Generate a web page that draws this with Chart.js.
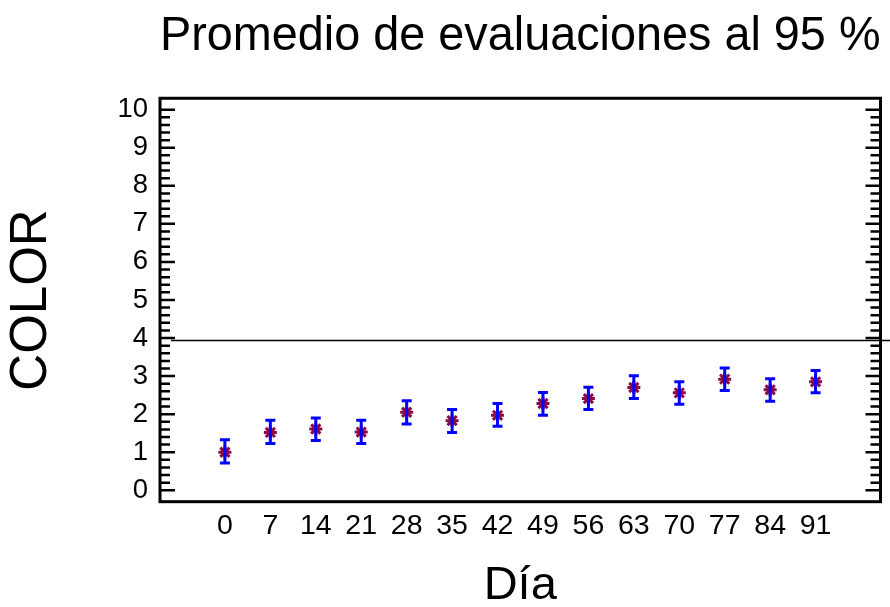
<!DOCTYPE html>
<html>
<head>
<meta charset="utf-8">
<title>Promedio de evaluaciones al 95 %</title>
<script src="https://cdn.jsdelivr.net/npm/chart.js@4/dist/chart.umd.min.js"></script>
<style>
  html, body { margin: 0; padding: 0; background: #ffffff; }
  #wrap { width: 890px; height: 607px; }
  canvas { display: block; }
</style>
</head>
<body>
<div id="wrap"><canvas id="chart" width="890" height="607"></canvas></div>
<script>
// Evaluation day (x) and COLOR score: mean with 95 % interval limits
const days  = [0, 7, 14, 21, 28, 35, 42, 49, 56, 63, 70, 77, 84, 91];
const means = [1.00, 1.52, 1.61, 1.53, 2.05, 1.83, 1.97, 2.28, 2.41, 2.70, 2.56, 2.92, 2.64, 2.85];
const lower = [0.72, 1.23, 1.31, 1.23, 1.74, 1.52, 1.68, 1.97, 2.12, 2.41, 2.26, 2.62, 2.34, 2.56];
const upper = [1.33, 1.84, 1.90, 1.84, 2.35, 2.12, 2.28, 2.57, 2.71, 3.01, 2.85, 3.21, 2.93, 3.15];
const yTickValues = [0, 1, 2, 3, 4, 5, 6, 7, 8, 9, 10];
const referenceLevel = 3.95;

const FONT = '"Liberation Sans", Arial, Helvetica, sans-serif';

// Frame, inward ticks on both vertical sides, reference line and interval bars
const decorations = {
  id: 'decorations',
  afterDatasetsDraw(chart) {
    const { ctx, chartArea: a, scales: { x, y } } = chart;
    ctx.save();

    // 95 % interval bars
    ctx.strokeStyle = '#0000ff';
    ctx.lineWidth = 3;
    ctx.lineCap = 'butt';
    days.forEach((d, i) => {
      const px = x.getPixelForValue(d);
      const lo = y.getPixelForValue(lower[i]);
      const hi = y.getPixelForValue(upper[i]);
      ctx.beginPath();
      ctx.moveTo(px, lo); ctx.lineTo(px, hi);
      ctx.moveTo(px - 5, lo); ctx.lineTo(px + 5, lo);
      ctx.moveTo(px - 5, hi); ctx.lineTo(px + 5, hi);
      ctx.stroke();
    });

    // horizontal reference line
    const ry = Math.round(y.getPixelForValue(referenceLevel)) + 0.5;
    ctx.strokeStyle = '#000000';
    ctx.lineWidth = 1.5;
    ctx.beginPath();
    ctx.moveTo(x.getPixelForValue(-8.3), ry);
    ctx.lineTo(chart.width, ry);
    ctx.stroke();

    // inward major / minor ticks on left and right sides
    ctx.lineWidth = 2.5;
    for (let k = 0; k <= 50; k++) {
      const v = k * 0.2;
      const len = (k % 5 === 0) ? 15 : 10;
      const py = y.getPixelForValue(v);
      ctx.beginPath();
      ctx.moveTo(a.left, py); ctx.lineTo(a.left + len, py);
      ctx.moveTo(a.right, py); ctx.lineTo(a.right - len, py);
      ctx.stroke();
    }

    // plot frame
    ctx.lineWidth = 3;
    ctx.strokeRect(a.left, a.top, a.right - a.left, a.bottom - a.top);
    ctx.restore();
  }
};

new Chart(document.getElementById('chart'), {
  type: 'scatter',
  data: {
    datasets: [{
      label: 'COLOR',
      data: days.map((d, i) => ({ x: d, y: means[i] })),
      showLine: false,
      pointStyle: 'star',
      pointRadius: 6.5,
      pointHoverRadius: 6.5,
      pointBorderWidth: 3,
      pointBorderColor: '#8b0a45',
      pointBackgroundColor: '#8b0a45'
    }]
  },
  options: {
    responsive: false,
    animation: false,
    devicePixelRatio: 1,
    layout: { padding: { left: 0, right: 3.5, top: 0, bottom: 0 } },
    plugins: {
      legend: { display: false },
      tooltip: { enabled: false },
      title: {
        display: true,
        text: 'Promedio de evaluaciones al 95 %',
        fullSize: false,
        color: '#000000',
        font: { family: FONT, size: 47.3, weight: 'normal' },
        padding: { top: 8.5, bottom: 33.0 }
      }
    },
    scales: {
      x: {
        type: 'linear',
        min: -10,
        max: 101,
        grid: { display: false, drawTicks: false },
        border: { display: false },
        afterBuildTicks: (s) => { s.ticks = days.map(v => ({ value: v })); },
        afterFit: (s) => { s.height = 105.3; },
        ticks: {
          autoSkip: false,
          maxRotation: 0,
          padding: 7,
          color: '#000000',
          font: { family: FONT, size: 28.5 },
          callback: (v) => String(v)
        },
        title: {
          display: true,
          text: 'Día',
          color: '#000000',
          font: { family: FONT, size: 47, lineHeight: 0.8 },
          padding: { top: 0, bottom: 1.8 }
        }
      },
      y: {
        type: 'linear',
        min: -0.3,
        max: 10.3,
        grid: { display: false, drawTicks: false },
        border: { display: false },
        afterBuildTicks: (s) => { s.ticks = yTickValues.map(v => ({ value: v })); },
        afterFit: (s) => { s.width = 160; },
        ticks: {
          padding: 12,
          color: '#000000',
          font: { family: FONT, size: 27.5 },
          callback: (v) => String(v)
        },
        title: {
          display: true,
          text: 'COLOR',
          color: '#000000',
          font: { family: FONT, size: 51, lineHeight: 0.8 },
          padding: { top: 11.9, bottom: 0 }
        }
      }
    }
  },
  plugins: [decorations]
});
</script>
</body>
</html>
